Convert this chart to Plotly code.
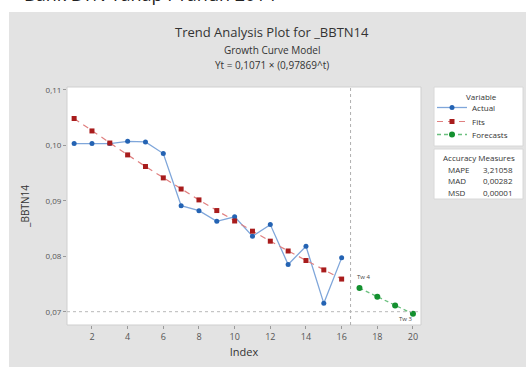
import plotly.graph_objects as go

# ---- data ----
index_actual = list(range(1, 17))
actual = [0.1003, 0.1003, 0.1003, 0.1007, 0.1006, 0.0985, 0.0891, 0.0882, 0.0863, 0.0871,
          0.0836, 0.0857, 0.0785, 0.0818, 0.0715, 0.0797]
fits = [0.10482, 0.10258, 0.10040, 0.09826, 0.09617, 0.09412, 0.09211, 0.09015, 0.08823, 0.08635,
        0.08451, 0.08271, 0.08094, 0.07922, 0.07753, 0.07588]
index_forecast = [17, 18, 19, 20]
forecasts = [0.07426, 0.07268, 0.07113, 0.06961]
x_ticks = [2, 4, 6, 8, 10, 12, 14, 16, 18, 20]
y_ticks = [0.07, 0.08, 0.09, 0.10, 0.11]
forecast_split = 16.5
ref_level = 0.07
notes = [("Tw 4", 17.25, 0.0763), ("Tw 3", 19.6, 0.0687)]
accuracy = [("MAPE", "3,21058"), ("MAD", "0,00282"), ("MSD", "0,00001")]

W, H = 526, 367
L, R, T, B = 67, 421, 87, 325


def px(x):
    return (x - L) / (R - L)


def py(y):
    return (B - y) / (B - T)


FONT = "Open Sans"
fig = go.Figure()
fig.add_trace(go.Scatter(x=index_actual, y=actual, mode="lines+markers", name="Actual",
                         line=dict(color="#7fa6da", width=1.3),
                         marker=dict(color="#2463b3", size=5, symbol="circle"),
                         legend="legend"))
fig.add_trace(go.Scatter(x=index_actual, y=fits, mode="lines+markers", name="Fits",
                         line=dict(color="#e08080", width=1.2, dash="6px,5px"),
                         marker=dict(color="#a81c1c", size=5, symbol="square"),
                         legend="legend2"))
fig.add_trace(go.Scatter(x=index_forecast, y=forecasts, mode="lines+markers", name="Forecasts",
                         line=dict(color="#6cc07f", width=1.3, dash="4px,3px"),
                         marker=dict(color="#13902f", size=6, symbol="circle"),
                         legend="legend3"))

shapes = [
    dict(type="rect", xref="paper", yref="paper", x0=px(9), x1=px(530), y0=py(12), y1=py(370),
         fillcolor="#e3e3e3", line=dict(width=0), layer="below"),
    dict(type="rect", xref="paper", yref="paper", x0=0, x1=1, y0=0, y1=1,
         fillcolor="white", line=dict(color="#cfcfcf", width=1), layer="below"),
    dict(type="rect", xref="paper", yref="paper", x0=px(434), x1=px(523), y0=py(146), y1=py(87),
         fillcolor="white", line=dict(color="#d8d8d8", width=1), layer="below"),
    dict(type="rect", xref="paper", yref="paper", x0=px(434), x1=px(523), y0=py(199), y1=py(149),
         fillcolor="white", line=dict(color="#d8d8d8", width=1), layer="below"),
    dict(type="line", xref="x", yref="paper", x0=forecast_split, x1=forecast_split, y0=0, y1=1,
         line=dict(color="#b0b0b0", width=1, dash="dot")),
    dict(type="line", xref="paper", yref="y", x0=0, x1=1, y0=ref_level, y1=ref_level,
         line=dict(color="#b8b8b8", width=1, dash="dot")),
]

ann = [
    dict(text="Bank BTN Tahap I Tahun 2014", x=px(22), y=py(8), xref="paper", yref="paper",
         xanchor="left", yanchor="bottom", showarrow=False,
         font=dict(family=FONT, size=18, color="#222")),
    dict(text="Trend Analysis Plot for _BBTN14", x=px(272), y=py(32), xref="paper", yref="paper",
         xanchor="center", yanchor="middle", showarrow=False,
         font=dict(family=FONT, size=13, color="#333")),
    dict(text="Growth Curve Model", x=px(272), y=py(50), xref="paper", yref="paper",
         xanchor="center", yanchor="middle", showarrow=False,
         font=dict(family=FONT, size=10, color="#333")),
    dict(text="Yt = 0,1071 × (0,97869^t)", x=px(272), y=py(65), xref="paper", yref="paper",
         xanchor="center", yanchor="middle", showarrow=False,
         font=dict(family=FONT, size=10, color="#333")),
    dict(text="Variable", x=px(482), y=py(96), xref="paper", yref="paper",
         xanchor="center", yanchor="middle", showarrow=False,
         font=dict(family=FONT, size=8, color="#333")),
    dict(text="Accuracy Measures", x=px(479), y=py(157), xref="paper", yref="paper",
         xanchor="center", yanchor="middle", showarrow=False,
         font=dict(family=FONT, size=8, color="#333")),
]
for i, (k, v) in enumerate(accuracy):
    ann.append(dict(text=k, x=px(446), y=py(169 + 11.5 * i), xref="paper", yref="paper",
                    xanchor="left", yanchor="middle", showarrow=False,
                    font=dict(family=FONT, size=8, color="#333")))
    ann.append(dict(text=v, x=px(481), y=py(169 + 11.5 * i), xref="paper", yref="paper",
                    xanchor="left", yanchor="middle", showarrow=False,
                    font=dict(family=FONT, size=8, color="#333")))
for t, xv, yv in notes:
    ann.append(dict(text=t, x=xv, y=yv, xref="x", yref="y", showarrow=False,
                    font=dict(family=FONT, size=6, color="#444")))


def leg(top):
    return dict(x=px(432), y=py(top), xanchor="left", yanchor="top",
                bgcolor="rgba(0,0,0,0)", font=dict(family=FONT, size=8, color="#333"),
                itemwidth=30)


fig.update_layout(
    width=W, height=H,
    margin=dict(l=L, r=W - R, t=T, b=H - B),
    paper_bgcolor="white", plot_bgcolor="white",
    separators=",.",
    font=dict(family=FONT, size=9, color="#444"),
    shapes=shapes, annotations=ann,
    showlegend=True,
    legend=leg(93), legend2=leg(107), legend3=leg(120),
    xaxis=dict(range=[0.6, 20.45], tickvals=x_ticks, showgrid=False, zeroline=False,
               ticks="outside", ticklen=3, tickcolor="#999", showline=False,
               tickfont=dict(family=FONT, size=9, color="#555"),
               title=dict(text="Index", font=dict(family=FONT, size=11, color="#333"), standoff=6)),
    yaxis=dict(range=[0.0676, 0.1105], tickvals=y_ticks, tickformat=".2f", showgrid=False,
               zeroline=False, ticks="outside", ticklen=3, tickcolor="#999", showline=False,
               tickfont=dict(family=FONT, size=8, color="#555"),
               title=dict(text="_BBTN14", font=dict(family=FONT, size=10, color="#333"), standoff=14)),
)

fig.write_html("out.html", config={"displayModeBar": False},
               post_script="document.body.style.margin='0';document.body.style.overflow='hidden';")
